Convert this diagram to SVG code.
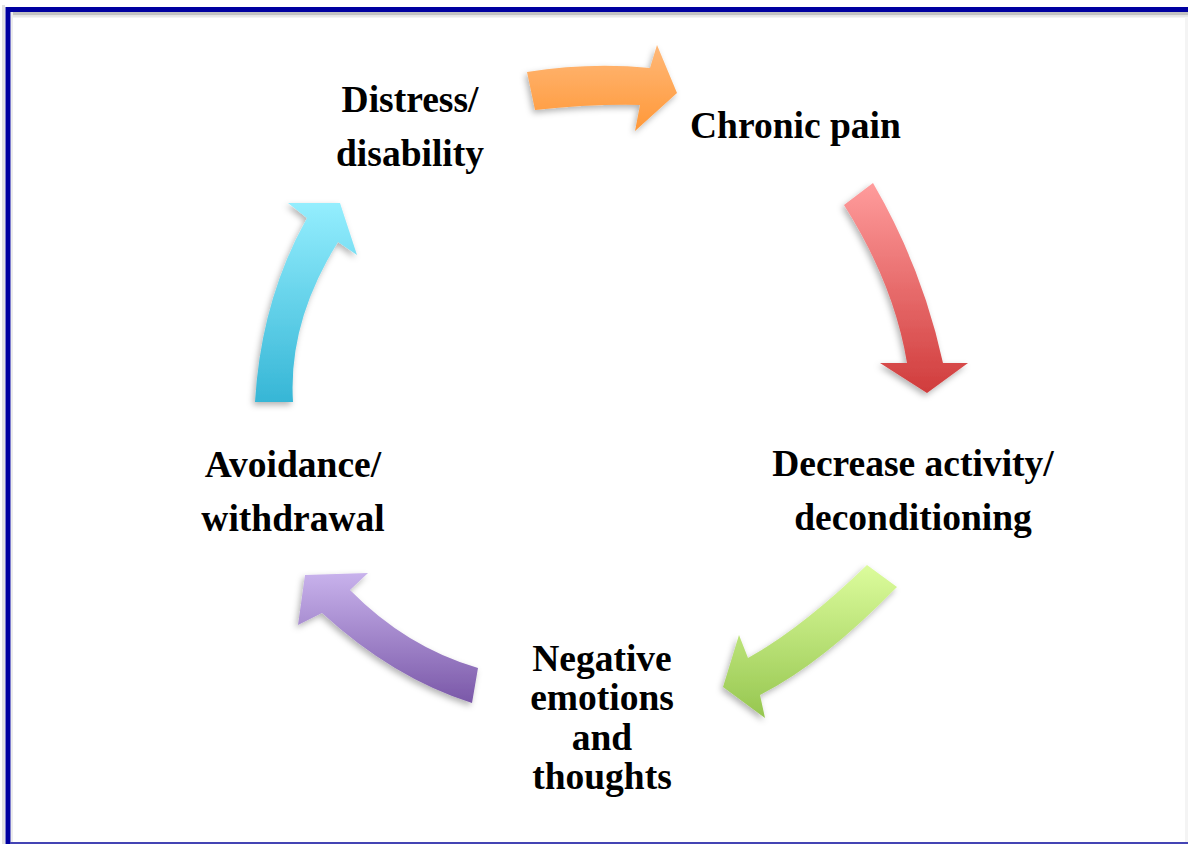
<svg xmlns="http://www.w3.org/2000/svg" width="1188" height="844" viewBox="0 0 1188 844">
  <style>
    .lbl { font-family: "Liberation Serif", "Times New Roman", serif; font-weight: bold; font-size: 37.5px; fill: #000; }
    .mid { text-anchor: middle; }
    .arrow { filter: url(#soft); }
  </style>
  <defs>
    <filter id="soft" x="-20%" y="-20%" width="140%" height="140%">
      <feDropShadow dx="-2" dy="3" stdDeviation="3" flood-color="#000" flood-opacity="0.3"/>
    </filter>
    <linearGradient id="gOrange" x1="0" y1="0" x2="0" y2="1">
      <stop offset="0" stop-color="#ffb878"/>
      <stop offset="1" stop-color="#ff9838"/>
    </linearGradient>
    <linearGradient id="gRed" x1="0" y1="0" x2="0" y2="1">
      <stop offset="0" stop-color="#ff9c9c"/>
      <stop offset="1" stop-color="#d03c3c"/>
    </linearGradient>
    <linearGradient id="gGreen" x1="0" y1="0" x2="0" y2="1">
      <stop offset="0" stop-color="#dcfc9c"/>
      <stop offset="1" stop-color="#96c650"/>
    </linearGradient>
    <linearGradient id="gPurple" x1="0" y1="0" x2="0" y2="1">
      <stop offset="0" stop-color="#c8b2ec"/>
      <stop offset="1" stop-color="#7a58a8"/>
    </linearGradient>
    <linearGradient id="gCyan" x1="0" y1="0" x2="0" y2="1">
      <stop offset="0" stop-color="#94eefe"/>
      <stop offset="1" stop-color="#36b6d6"/>
    </linearGradient>
  </defs>

  <rect width="1188" height="844" fill="#ffffff"/>

  <!-- frame -->
  <g id="frame">
    <rect x="2" y="5" width="3" height="839" fill="#e2e2e2"/>
    <rect x="11" y="12" width="1177" height="3.5" fill="#c2c2c2"/>
    <rect x="11" y="15.5" width="1177" height="2" fill="#e8e8e8"/>
    <rect x="11" y="12" width="2" height="832" fill="#ececec"/>
    <rect x="1185" y="17" width="3" height="827" fill="#f4f4f4"/>
    <rect x="8" y="9.5" width="1200" height="835" fill="none" stroke="#0000a0" stroke-width="5"/>
    <rect x="10" y="842" width="1178" height="2" fill="#4444b4"/>
  </g>

  <!-- cycle arrows -->
  <g id="connectors">
    <path class="arrow" fill="url(#gOrange)" d="M527,72 Q590,62 650,68 L657,45 L677,93 L635,131 L640,105 Q590,104 535,110 Z"/>
    <path class="arrow" fill="url(#gRed)" d="M873,183 Q922,267 943,363 L968,363 L927,393 L880,363 L907,363 Q894,284 844,205 Z"/>
    <path class="arrow" fill="url(#gGreen)" d="M867,565 L897,587 Q823,663 760,695 L765,718 L723,687 L739,635 L748,658 Q802,628 867,565 Z"/>
    <path class="arrow" fill="url(#gPurple)" d="M478,668 Q406,647 350,590 L368,573 L305,575 L298,625 L322,613 Q393,678 472,703 Z"/>
    <path class="arrow" fill="url(#gCyan)" d="M255,402 Q261,300 307,218 L288,203 L340,203 L357,255 L338,242 Q288,322 293,402 Z"/>
  </g>

  <g id="node-distress">
    <text class="lbl mid" x="410" y="112">Distress/</text>
    <text class="lbl mid" x="410" y="166">disability</text>
  </g>
  <g id="node-pain">
    <text class="lbl" x="690" y="138">Chronic pain</text>
  </g>
  <g id="node-decrease">
    <text class="lbl mid" x="913" y="476">Decrease activity/</text>
    <text class="lbl mid" x="913" y="530">deconditioning</text>
  </g>
  <g id="node-negative">
    <text class="lbl mid" x="602" y="671">Negative</text>
    <text class="lbl mid" x="602" y="710">emotions</text>
    <text class="lbl mid" x="602" y="750">and</text>
    <text class="lbl mid" x="602" y="789">thoughts</text>
  </g>
  <g id="node-avoidance">
    <text class="lbl mid" x="293" y="477">Avoidance/</text>
    <text class="lbl mid" x="293" y="531">withdrawal</text>
  </g>
</svg>
